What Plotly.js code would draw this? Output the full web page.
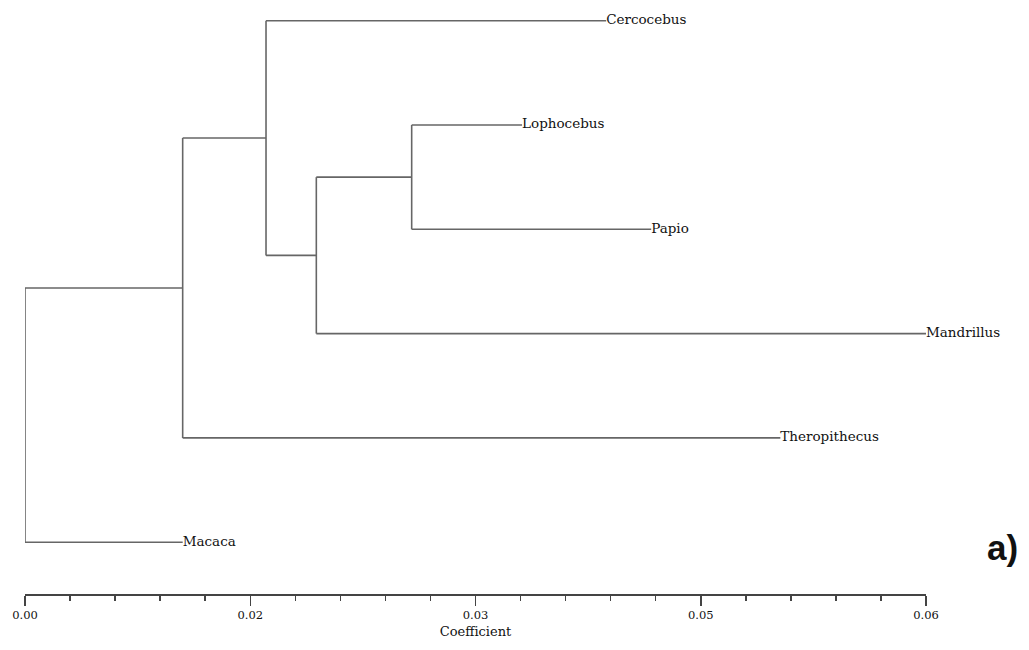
<!DOCTYPE html>
<html>
<head>
<meta charset="utf-8">
<script src="https://cdn.plot.ly/plotly-3.0.1.min.js"></script>
<style>html,body{margin:0;padding:0;background:#fff;}#chart{width:1029px;height:650px;}</style>
</head>
<body>
<div id="chart"></div>
<script>
// Leaves (top to bottom) and their tip coefficients
const leafNames = ['Cercocebus','Lophocebus','Papio','Mandrillus','Theropithecus','Macaca'];
const leafX = [0.0387, 0.0331, 0.0417, 0.0600, 0.0503, 0.0105];

// Internal nodes: coefficient and their two children
const nodeNames = ['D','C','B','A','Root'];
const nodeX = [0.02575, 0.0194, 0.01605, 0.0105, 0.0];
const childOne = ['Lophocebus','D','Cercocebus','B','A'];
const childTwo = ['Papio','Mandrillus','C','Theropithecus','Macaca'];

// Axis ticks
const tickVals = [0, 0.015, 0.03, 0.045, 0.06];
const tickText = ['0.00','0.02','0.03','0.05','0.06'];

// Build positions
const pos = {};
leafNames.forEach((n,i)=>{ pos[n] = {x: leafX[i], y: i}; });
nodeNames.forEach((n,i)=>{
  const a = pos[childOne[i]], b = pos[childTwo[i]];
  pos[n] = {x: nodeX[i], y: (a.y + b.y)/2};
});
const lx = [], ly = [];
nodeNames.forEach((n,i)=>{
  const p = pos[n], a = pos[childOne[i]], b = pos[childTwo[i]];
  lx.push(p.x, p.x, null); ly.push(a.y, b.y, null);
  lx.push(p.x, a.x, null); ly.push(a.y, a.y, null);
  lx.push(p.x, b.x, null); ly.push(b.y, b.y, null);
});

const serif = 'DejaVu Serif, Liberation Serif, serif';
const traces = [
  {x: lx, y: ly, mode: 'lines', type: 'scatter', line: {color: '#666666', width: 1.6}, hoverinfo: 'skip', showlegend: false},
  {x: leafX, y: leafNames.map((n,i)=>i), text: leafNames, mode: 'text', type: 'scatter',
   textposition: 'middle right', textfont: {family: serif, size: 13.5, color: '#111'}, showlegend: false, cliponaxis: false}
];

const layout = {
  width: 1029, height: 650,
  margin: {l: 25, r: 103, t: 10, b: 56},
  paper_bgcolor: '#fff', plot_bgcolor: '#fff',
  showlegend: false,
  xaxis: {
    range: [0, 0.06], showgrid: false, zeroline: false,
    showline: true, linecolor: '#444', linewidth: 1.5,
    ticks: 'outside', ticklen: 10, tickwidth: 1.5, tickcolor: '#444',
    tickvals: tickVals, ticktext: tickText,
    tickfont: {family: serif, size: 11.5, color: '#111'},
    minor: {dtick: 0.003, tick0: 0, ticks: 'outside', ticklen: 5, tickwidth: 1.5, tickcolor: '#444'},
    title: {text: 'Coefficient', font: {family: serif, size: 13, color: '#111'}, standoff: 5},
    fixedrange: true
  },
  yaxis: {
    range: [5.4966, -0.1026], visible: false, showgrid: false, zeroline: false, fixedrange: true
  },
  annotations: [
    {text: '<b>a)</b>', xref: 'paper', yref: 'paper', x: 1.085, y: 0.079, xanchor: 'center', yanchor: 'middle',
     showarrow: false, font: {family: 'Liberation Sans, Arial, sans-serif', size: 35, color: '#111'}}
  ]
};

Plotly.newPlot('chart', traces, layout, {displayModeBar: false, staticPlot: true});
</script>
</body>
</html>
